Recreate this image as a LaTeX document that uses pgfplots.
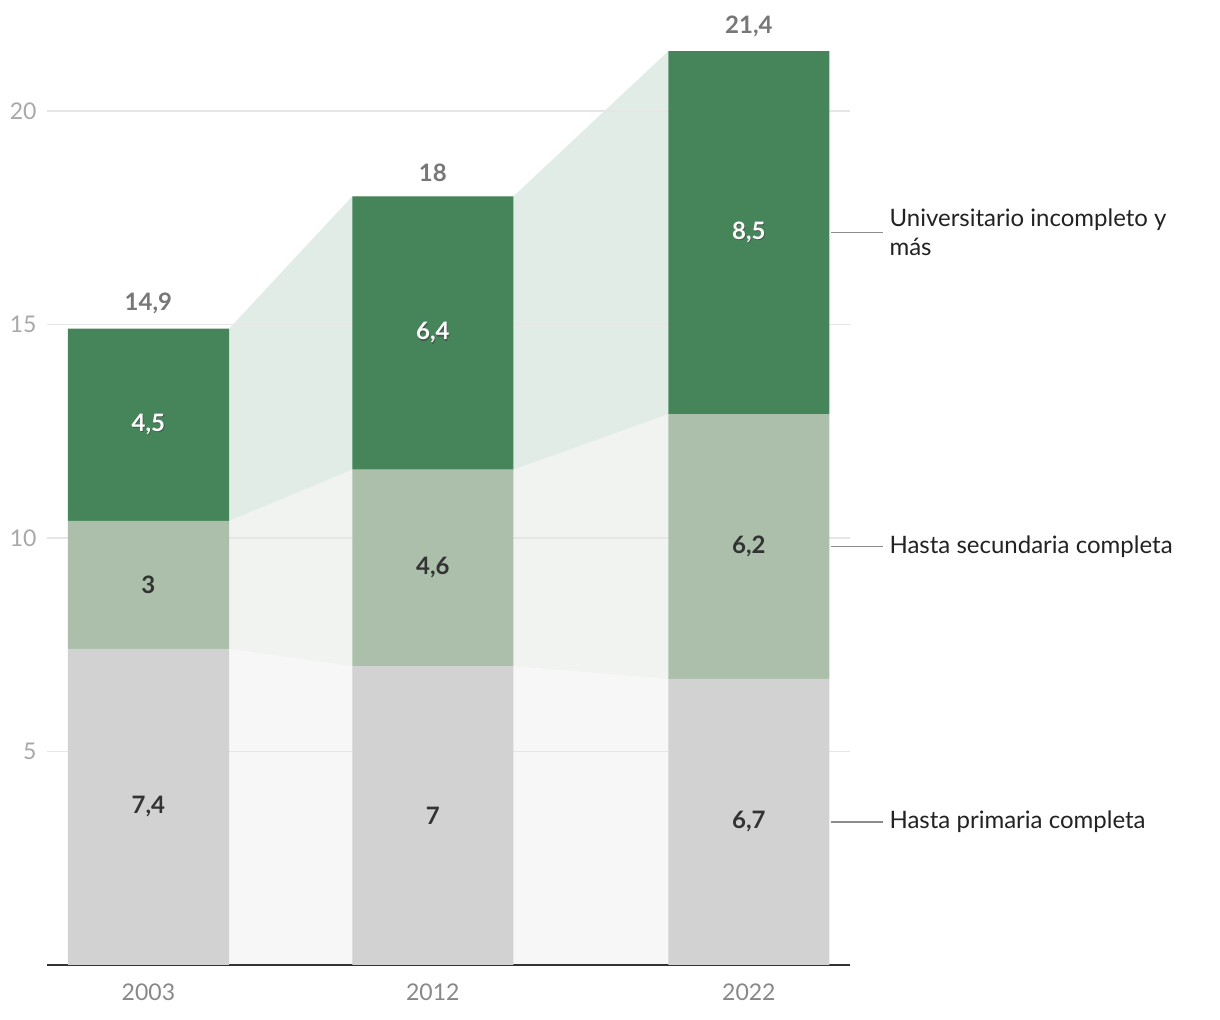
\documentclass[border=0pt]{standalone}
\usepackage{pgfplots}
\pgfplotsset{compat=1.18}
\usepackage{pgfplotstable}
\usepackage{fontspec}
\setmainfont{Lato}
\definecolor{cTop}{HTML}{468559}
\definecolor{cMid}{HTML}{ABBFAA}
\definecolor{cBot}{HTML}{D2D2D2}
\definecolor{kTop}{HTML}{E1ECE6}
\definecolor{kMid}{HTML}{F1F3F0}
\definecolor{kBot}{HTML}{F7F7F7}
\definecolor{gridc}{HTML}{E6E6E6}
\definecolor{tickc}{HTML}{A8A8A8}
\definecolor{xtickc}{HTML}{888888}
\definecolor{totc}{HTML}{777777}
\definecolor{darkt}{HTML}{333333}
\definecolor{legc}{HTML}{222222}

% segment values
\pgfplotstableread{
year bot mid top
2003 7.4 3.0 4.5
2012 7.0 4.6 6.4
2022 6.7 6.2 8.5
}\bars
% connector edges (bar edges), cumulative heights
\pgfplotstableread{
x bot mid top
2005.55 7.4 10.4 14.9
2009.45 7.0 11.6 18.0
2014.55 7.0 11.6 18.0
2019.45 6.7 12.9 21.4
}\conn
\pgfplotstableread{
x y lab
2003 12.65 4,5
2012 14.8 6,4
2022 17.15 8,5
}\labTop
\pgfplotstableread{
x y lab
2003 8.9 3
2012 9.3 4,6
2022 9.8 6,2
2003 3.7 7,4
2012 3.5 7
2022 3.35 6,7
}\labDark
\pgfplotstableread{
x y lab
2003 14.9 14,9
2012 18.0 18
2022 21.4 21,4
}\labTot

\pgfplotsset{
  common/.style={
    scale only axis,
    width=401.5pt, height=469.7pt,
    xmin=1999.79, xmax=2025.2,
    ymin=0, ymax=22,
    clip=false,
    major tick length=0pt,
    /pgf/number format/assume math mode=true,
    /pgf/number format/1000 sep={},
    tick label style={font=\fontsize{11.5}{14}\selectfont},
  },
  lab/.style={draw=none, mark=none, nodes near coords, point meta=explicit symbolic},
}

\begin{document}
\fontsize{12}{14.5}\selectfont
\begin{tikzpicture}
% background axis: connectors, grid, y ticks
\begin{axis}[
  common,
  set layers,
  axis x line*=bottom, axis y line*=left,
  x axis line style={draw=none},
  y axis line style={draw=none},
  xtick=\empty,
  ytick={5,10,15,20},
  ymajorgrids,
  grid style={draw=gridc, line width=0.9pt},
  y tick label style={text=tickc, xshift=-1pt},
]
\addplot[fill=kTop, draw=none, on layer=axis background] table[x=x, y=top] {\conn} \closedcycle;
\addplot[fill=kMid, draw=none, on layer=axis background] table[x=x, y=mid] {\conn} \closedcycle;
\addplot[fill=kBot, draw=none, on layer=axis background] table[x=x, y=bot] {\conn} \closedcycle;
\path (rel axis cs:-0.0585,-0.0585) rectangle (rel axis cs:1.4608,1.0272);
\end{axis}
% foreground axis: stacked bars, x axis
\begin{axis}[
  common,
  ybar stacked,
  bar width=5.1,
  axis x line*=bottom, axis y line*=left,
  y axis line style={draw=none},
  x axis line style={draw=darkt, line width=1pt},
  xtick={2003,2012,2022},
  ytick=\empty,
  x tick label style={text=xtickc, yshift=-5pt},
]
\addplot[fill=cBot, draw=none] table[x=year, y=bot] {\bars};
\addplot[fill=cMid, draw=none] table[x=year, y=mid] {\bars};
\addplot[fill=cTop, draw=none] table[x=year, y=top] {\bars};
\end{axis}
% labels axis (no stacking)
\begin{axis}[
  common,
  axis lines=none,
  xtick=\empty, ytick=\empty,
]
\addplot[lab,
  every node near coord/.style={anchor=center, text=black!75, opacity=0.6, font=\fontsize{12}{14}\selectfont\bfseries, xshift=0.4pt, yshift=-0.6pt}]
  table[x=x, y=y, meta=lab] {\labTop};
\addplot[lab,
  every node near coord/.style={anchor=center, text=white, font=\fontsize{12}{14}\selectfont\bfseries}]
  table[x=x, y=y, meta=lab] {\labTop};
\addplot[lab,
  every node near coord/.style={anchor=center, text=darkt, font=\fontsize{12}{14}\selectfont\bfseries}]
  table[x=x, y=y, meta=lab] {\labDark};
\addplot[lab,
  every node near coord/.style={anchor=south, text=totc, yshift=3pt, font=\fontsize{12}{14}\selectfont\bfseries}]
  table[x=x, y=y, meta=lab] {\labTot};
\draw[color=black!45, line width=0.8pt] (axis cs:2024.6,17.15) -- (axis cs:2026.25,17.15);
\draw[color=black!45, line width=0.8pt] (axis cs:2024.6,9.8) -- (axis cs:2026.25,9.8);
\draw[color=black!45, line width=0.8pt] (axis cs:2024.6,3.35) -- (axis cs:2026.25,3.35);
\node[anchor=west, align=left, text=legc, inner sep=0pt, xshift=3pt] at (axis cs:2026.25,17.15) {Universitario incompleto y\\más};
\node[anchor=west, align=left, text=legc, inner sep=0pt, xshift=3pt] at (axis cs:2026.25,9.8) {Hasta secundaria completa};
\node[anchor=west, align=left, text=legc, inner sep=0pt, xshift=3pt] at (axis cs:2026.25,3.35) {Hasta primaria completa};
\end{axis}
\end{tikzpicture}
\end{document}
